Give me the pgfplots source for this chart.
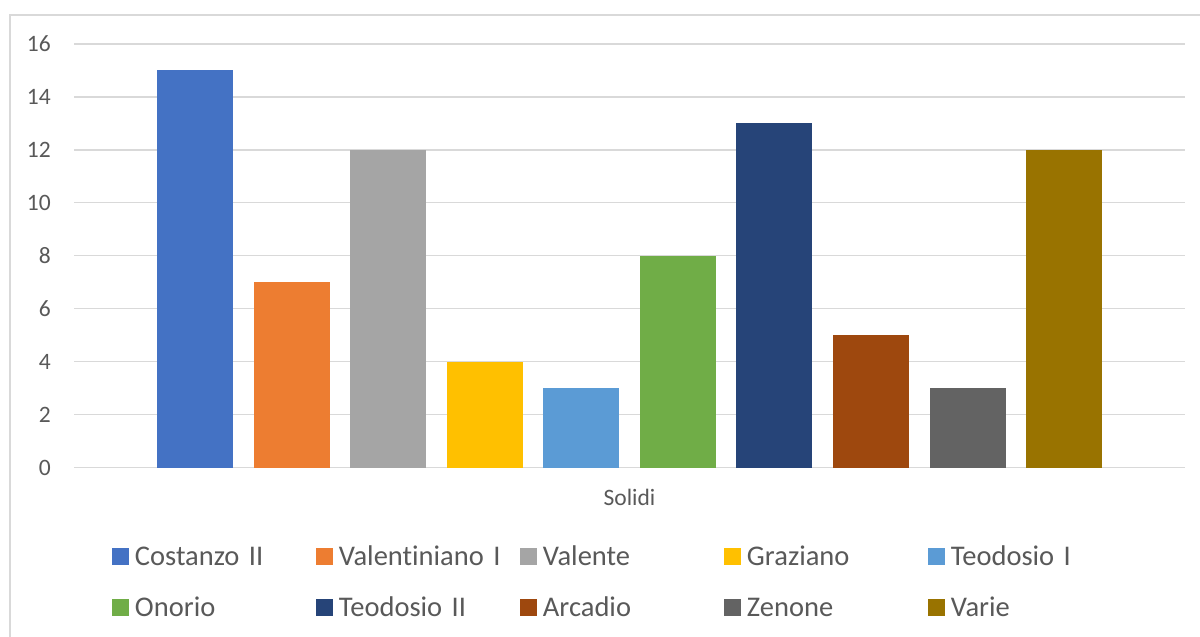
\documentclass[border=0pt]{standalone}
\usepackage{fontspec}
\setmainfont{Carlito}[RawFeature=-liga]
\usepackage{pgfplots}
\pgfplotsset{compat=1.18}
\definecolor{cA}{HTML}{4472C4}
\definecolor{cB}{HTML}{ED7D31}
\definecolor{cC}{HTML}{A5A5A5}
\definecolor{cD}{HTML}{FFC000}
\definecolor{cE}{HTML}{5B9BD5}
\definecolor{cF}{HTML}{70AD47}
\definecolor{cG}{HTML}{264478}
\definecolor{cH}{HTML}{9E480E}
\definecolor{cI}{HTML}{636363}
\definecolor{cJ}{HTML}{997300}
\definecolor{txt}{HTML}{595959}
\definecolor{grd}{HTML}{D9D9D9}
\begin{document}
\begin{tikzpicture}
\useasboundingbox (0,0) rectangle (1200bp,637bp);
\fill[white] (0,0) rectangle (1200bp,637bp);
\draw[grd, line width=1.5bp] (10bp,0) -- (10bp,622bp) -- (1200bp,622bp);
\begin{axis}[
  at={(74bp,169.5bp)}, anchor=south west,
  scale only axis, width=1111bp, height=423.5bp,
  xmin=-1.2526, xmax=10.2526, ymin=0, ymax=16,
  axis line style={draw=none},
  ytick={0,2,...,16},
  ymajorgrids, grid style={grd, line width=1.3bp},
  major tick length=0pt,
  xtick={4.5}, xticklabels={Solidi},
  /pgf/number format/assume math mode=true,
  yticklabel style={anchor=east, inner sep=0pt, xshift=-23bp, font=\fontsize{23.5bp}{28bp}\selectfont, text=txt},
  xticklabel style={anchor=base, inner sep=0pt, yshift=-38.2bp, font=\fontsize{23.5bp}{28bp}\selectfont, text=txt},
  legend image code/.code={\fill[#1] (0bp,0bp) rectangle (17bp,17bp);},
  legend columns=5,
  legend style={draw=none, fill=none, inner sep=0pt, outer sep=0pt,
    at={(axis description cs:0.0342,-0.1836)}, anchor=north west,
    font=\fontsize{28.5bp}{34bp}\selectfont, text=txt,
    nodes={inner sep=0pt, text width=181bp, align=left, text height=20bp, text depth=6bp, anchor=base west},
    row sep=25bp, column sep=0pt,
    /tikz/every odd column/.append style={column sep=6bp}},
  legend cell align=left,
]
\addplot[ybar, bar width=0.787, bar shift=0pt, fill=cA, draw=none] coordinates {(0,15)};
\addplot[ybar, bar width=0.787, bar shift=0pt, fill=cB, draw=none] coordinates {(1,7)};
\addplot[ybar, bar width=0.787, bar shift=0pt, fill=cC, draw=none] coordinates {(2,12)};
\addplot[ybar, bar width=0.787, bar shift=0pt, fill=cD, draw=none] coordinates {(3,4)};
\addplot[ybar, bar width=0.787, bar shift=0pt, fill=cE, draw=none] coordinates {(4,3)};
\addplot[ybar, bar width=0.787, bar shift=0pt, fill=cF, draw=none] coordinates {(5,8)};
\addplot[ybar, bar width=0.787, bar shift=0pt, fill=cG, draw=none] coordinates {(6,13)};
\addplot[ybar, bar width=0.787, bar shift=0pt, fill=cH, draw=none] coordinates {(7,5)};
\addplot[ybar, bar width=0.787, bar shift=0pt, fill=cI, draw=none] coordinates {(8,3)};
\addplot[ybar, bar width=0.787, bar shift=0pt, fill=cJ, draw=none] coordinates {(9,12)};
\legend{Costanzo II, Valentiniano I, Valente, Graziano, Teodosio I, Onorio, Teodosio II, Arcadio, Zenone, Varie}
\end{axis}
\end{tikzpicture}
\end{document}
